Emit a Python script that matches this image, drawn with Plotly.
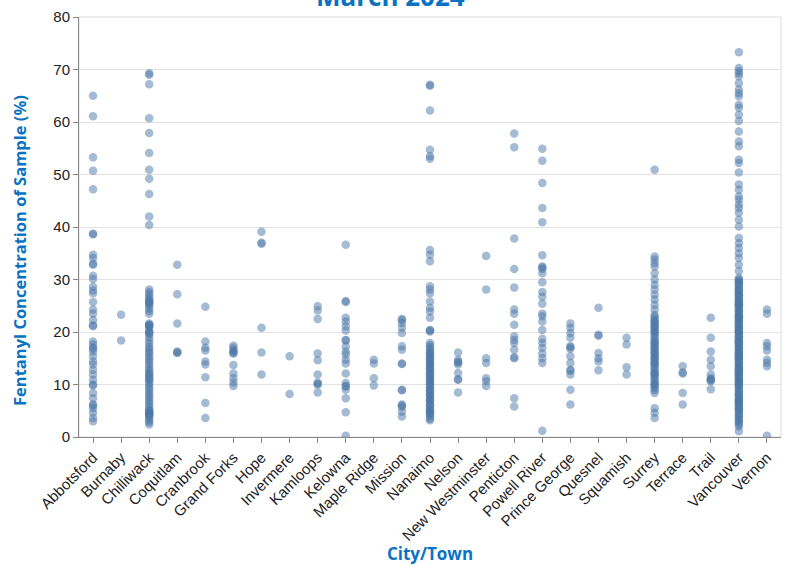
import plotly.graph_objects as go

cities = ["Abbotsford", "Burnaby", "Chilliwack", "Coquitlam", "Cranbrook", "Grand Forks",
          "Hope", "Invermere", "Kamloops", "Kelowna", "Maple Ridge", "Mission", "Nanaimo",
          "Nelson", "New Westminster", "Penticton", "Powell River", "Prince George",
          "Quesnel", "Squamish", "Surrey", "Terrace", "Trail", "Vancouver", "Vernon"]

abbotsford = [65.0, 61.1, 53.3, 50.7, 47.2, 38.6, 38.7, 34.7, 34.1, 32.8, 33.0, 30.7, 30.1, 28.6, 27.9,
              27.4, 25.7, 24.3, 23.5, 22.3, 21.1, 21.3, 18.2, 17.6, 17.0, 16.8, 16.3, 15.4, 14.4, 13.8,
              12.8, 11.9, 10.9, 9.8, 10.0, 8.4, 7.4, 6.2, 6.0, 5.5, 4.6, 3.6, 3.0]
burnaby = [23.3, 18.4]
chilliwack = [69.3, 69.0, 67.2, 60.7, 57.9, 54.1, 50.9, 49.2, 46.3, 42.0, 40.4,
              28.1, 27.6, 27.2, 26.7, 26.3, 26.0, 25.8, 25.5, 25.4, 25.0, 24.5, 24.0, 23.5,
              21.6, 21.4, 21.3, 21.2, 20.9, 20.3, 20.0, 19.8, 19.6, 19.0, 18.4, 17.8, 17.2, 16.8,
              16.3, 15.9, 15.4, 14.9, 14.5, 14.0, 13.5, 13.0, 12.6, 12.1, 12.0, 11.6, 11.2, 11.0,
              10.8, 10.3, 9.9, 9.4, 9.0, 8.5, 8.0, 7.6, 7.1, 6.6, 6.2, 5.7, 5.2, 5.0, 4.9, 4.6,
              4.5, 4.3, 4.2, 4.0, 3.6, 3.2, 2.8, 2.4]
coquitlam = [32.8, 27.2, 21.6, 16.3, 16.1, 16.0]
cranbrook = [24.8, 18.2, 17.0, 16.5, 14.4, 13.8, 11.4, 6.5, 3.6]
grand_forks = [17.4, 17.0, 16.5, 16.3, 16.0, 15.9, 13.7, 12.1, 11.2, 10.4, 9.7]
hope = [39.1, 37.0, 36.8, 20.8, 16.1, 11.9]
invermere = [15.4, 8.2]
kamloops = [24.9, 24.1, 22.5, 15.9, 14.6, 11.9, 10.4, 10.0, 10.1, 8.5]
kelowna = [36.6, 25.7, 25.9, 22.7, 22.0, 21.1, 20.3, 18.5, 18.4, 17.3, 16.3, 15.7, 14.7, 14.0,
           12.1, 10.3, 9.7, 9.6, 9.0, 7.4, 4.7, 0.25]
maple_ridge = [14.7, 14.0, 11.2, 9.8]
mission = [22.5, 22.3, 21.7, 20.8, 19.8, 17.3, 16.6, 13.9, 14.0, 8.9, 9.0, 6.2, 6.0, 5.7, 4.8, 3.9]
nanaimo = [66.9, 67.1, 62.2, 54.7, 53.5, 53.0, 35.6, 34.7, 33.5, 28.7, 28.1, 27.4, 25.8, 24.6,
           23.9, 22.7, 20.4, 20.3, 20.1,
           17.9, 17.5, 17.1, 16.7, 16.3, 16.0, 15.9, 15.5, 15.1, 15.0, 14.7, 14.3, 14.0, 13.9,
           13.5, 13.1, 13.0, 12.7, 12.3, 12.0, 11.9, 11.5, 11.1, 11.0, 10.7, 10.3, 10.0, 9.9,
           9.5, 9.1, 9.0, 8.7, 8.3, 8.0, 7.9, 7.5, 7.1, 7.0, 6.7, 6.3, 6.0, 5.9, 5.5, 5.1, 5.0,
           4.7, 4.5, 4.3, 3.9, 3.5, 3.2]
nelson = [16.1, 14.7, 14.2, 14.3, 13.8, 12.2, 10.9, 11.0, 8.5]
new_westminster = [34.5, 28.1, 15.0, 14.1, 11.2, 10.6, 9.7]
penticton = [57.8, 55.2, 37.8, 32.0, 28.5, 24.3, 23.5, 21.4, 19.2, 18.5, 17.9, 16.6, 15.0, 15.2,
             7.4, 5.8]
powell_river = [54.9, 52.6, 48.4, 43.6, 40.9, 34.6, 32.5, 32.3, 32.0, 31.2, 29.5, 27.6, 26.7,
                25.4, 23.5, 23.0, 22.0, 20.4, 18.7, 17.9, 17.0, 15.9, 15.0, 14.1, 1.2]
prince_george = [21.6, 20.8, 19.8, 18.9, 17.3, 17.1, 16.8, 15.4, 14.1, 12.8, 12.6, 11.9, 9.0, 6.2]
quesnel = [24.6, 19.5, 19.3, 16.0, 15.0, 14.4, 12.7]
squamish = [18.9, 17.6, 13.3, 11.9]
surrey = [50.9, 34.4, 33.8, 33.1, 32.5, 31.2, 30.0, 29.0, 28.1, 27.1, 26.2, 25.2, 24.3,
          23.3, 22.9, 22.5, 22.1, 22.0, 21.7, 21.3, 21.0, 20.9, 20.5, 20.1, 20.0, 19.7, 19.3,
          18.9, 18.5, 18.1, 18.0, 17.7, 17.3, 17.0, 16.9, 16.5, 16.1, 16.0, 15.7, 15.3, 15.0,
          14.9, 14.5, 14.1, 14.0, 13.7, 13.3, 12.9, 12.5, 12.1, 12.0, 11.7, 11.3, 10.9, 10.5,
          10.1, 10.0, 9.7, 9.3, 8.9, 8.4, 5.5, 4.6, 3.6]
terrace = [13.5, 12.3, 12.1, 8.4, 6.2]
trail = [22.7, 18.9, 16.3, 14.7, 13.5, 11.9, 11.2, 11.0, 10.6, 10.8, 9.1]
vancouver = [73.3, 70.3, 69.7, 69.3, 68.7, 67.4, 66.2, 65.5, 64.9, 63.3, 62.7, 61.4, 60.2, 58.2,
             56.3, 55.4, 52.8, 52.2, 50.4, 48.1, 47.1, 45.8, 45.2, 44.3, 43.6, 42.7, 41.4, 40.1,
             37.9, 36.9, 36.0, 35.0, 34.1, 32.8, 31.6, 30.3,
             30.0, 29.7, 29.4, 29.1, 28.8, 28.5, 28.2, 27.9, 27.6, 27.3, 27.0, 26.7, 26.4, 26.1,
             25.8, 25.5, 25.2, 24.9, 24.6, 24.3, 24.0, 23.7, 23.4, 23.1, 22.8, 22.5, 22.2, 21.9,
             21.6, 21.3, 21.0, 20.7, 20.4, 20.1, 19.8, 19.5, 19.2, 18.9, 18.6, 18.3, 18.0, 17.7,
             17.4, 17.1, 16.8, 16.5, 16.2, 15.9, 15.6, 15.3, 15.0, 14.7, 14.4, 14.1, 13.8, 13.5,
             13.2, 12.9, 12.6, 12.3, 12.0, 11.7, 11.4, 11.1, 10.8, 10.5, 10.2, 9.9, 9.6, 9.3, 9.0,
             8.7, 8.4, 8.1, 7.8, 7.5, 7.2, 6.9, 6.6, 6.3, 6.0, 5.7, 5.4, 5.1, 4.8, 4.5, 4.2, 3.9,
             3.6, 3.3, 3.0, 2.7, 2.4, 2.0, 1.1,
             29.5, 28.0, 27.0, 26.0, 25.0, 24.0, 23.0, 22.0, 21.0, 20.0, 19.0, 18.0, 17.0, 16.0,
             15.0, 14.0, 13.0, 12.0, 11.0, 10.0, 25.3, 22.7, 20.3, 18.2, 15.5, 12.5, 10.5, 8.0,
             7.0, 6.5, 5.5]
vernon = [24.3, 23.5, 17.9, 17.3, 16.5, 14.7, 14.1, 13.5, 0.25]

series = [abbotsford, burnaby, chilliwack, coquitlam, cranbrook, grand_forks, hope, invermere,
          kamloops, kelowna, maple_ridge, mission, nanaimo, nelson, new_westminster, penticton,
          powell_river, prince_george, quesnel, squamish, surrey, terrace, trail, vancouver, vernon]

xs, ys = [], []
for c, vals in zip(cities, series):
    xs += [c] * len(vals)
    ys += vals

BLUE = "#0a72c2"
TFONT = "Open Sans, Liberation Sans, sans-serif"
fig = go.Figure(go.Scatter(
    x=xs, y=ys, mode="markers",
    marker=dict(color="#4c78a8", size=8.5, opacity=0.5, line=dict(width=0)),
    hoverinfo="skip", showlegend=False,
))

fig.update_layout(
    width=787, height=565,
    margin=dict(l=79, r=6, t=17, b=128),
    plot_bgcolor="white", paper_bgcolor="white",
    font=dict(family="Liberation Sans, Arial, sans-serif", size=14, color="#222"),
    annotations=[
        dict(text="<b>March 2024</b>", xref="paper", yref="paper", x=0.444, y=1.0,
             yanchor="bottom", yshift=1, showarrow=False,
             font=dict(family=TFONT, size=26, color=BLUE)),
        dict(text="<b>Fentanyl Concentration of Sample (%)</b>", xref="paper", yref="paper",
             x=0, y=0.443, xanchor="center", yanchor="middle", xshift=-59, textangle=-90,
             showarrow=False, font=dict(family=TFONT, size=16.5, color=BLUE)),
    ],
    shapes=[dict(type="rect", xref="paper", yref="paper", x0=0, y0=0, x1=1, y1=1,
                 line=dict(color="#dddddd", width=1), layer="below")],
)
fig.update_xaxes(
    type="category", categoryorder="array", categoryarray=cities,
    range=[-0.5, len(cities) - 0.5], automargin=False,
    tickangle=-45, ticks="outside", ticklen=5, tickcolor="#888",
    showline=True, linecolor="#888", linewidth=1, showgrid=False,
    tickfont=dict(size=15, color="#222"),
    title=dict(text="<b>City/Town</b>", standoff=12,
               font=dict(family=TFONT, size=17, color=BLUE)),
)
fig.update_yaxes(
    range=[0, 80], dtick=10, ticks="outside", ticklen=5, tickcolor="#888",
    showline=True, linecolor="#888", linewidth=1, automargin=False,
    showgrid=True, gridcolor="#e2e2e2", zeroline=False,
    tickfont=dict(size=15, color="#222"),
)

fig.write_html("out.html", config={"displayModeBar": False},
               post_script="document.body.style.margin='0';")
